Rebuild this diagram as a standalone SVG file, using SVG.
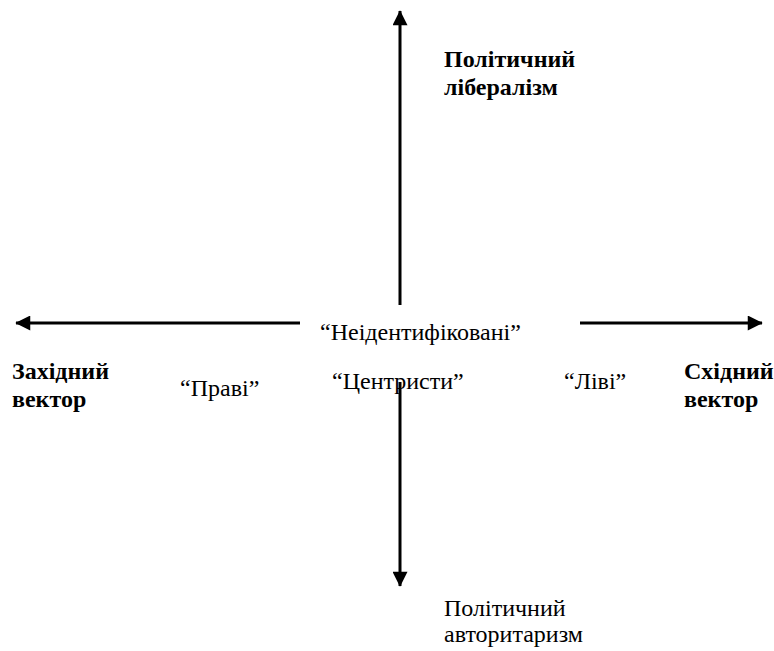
<svg xmlns="http://www.w3.org/2000/svg" width="774" height="651" viewBox="0 0 774 651">
<defs>
<style>
.t{font-family:"Liberation Serif","Times New Roman",serif;font-size:24px;fill:#000}
.b{font-weight:bold}
.ax{stroke:#000;stroke-width:3;fill:none}
</style>
<marker id="ah" viewBox="0 0 10 10" refX="9.5" refY="5" markerWidth="5.4" markerHeight="5" markerUnits="strokeWidth" orient="auto"><path d="M0,0 L10,5 L0,10 Z" fill="#000"/></marker>
</defs>
<rect width="774" height="651" fill="#fff"/>
<g id="connectors">
<line class="ax" x1="400" y1="305" x2="400" y2="11" marker-end="url(#ah)"/>
<line class="ax" x1="400" y1="382" x2="400" y2="586" marker-end="url(#ah)"/>
<line class="ax" x1="300" y1="323" x2="16" y2="323" marker-end="url(#ah)"/>
<line class="ax" x1="580" y1="323" x2="762" y2="323" marker-end="url(#ah)"/>
</g>
<g id="liberalism"><text class="t b" x="444" y="67">Політичний</text><text class="t b" x="444" y="95">лібералізм</text></g>
<g id="authoritarianism"><text class="t" x="444" y="616">Політичний</text><text class="t" x="444" y="642">авторитаризм</text></g>
<g id="west"><text class="t b" x="12" y="379">Західний</text><text class="t b" x="12" y="407">вектор</text></g>
<g id="east"><text class="t b" x="684" y="379">Східний</text><text class="t b" x="684" y="407">вектор</text></g>
<g id="unidentified"><text class="t" x="320" y="340">“Неідентифіковані”</text></g>
<g id="centrists"><text class="t" x="332" y="389">“Центристи”</text></g>
<g id="right"><text class="t" x="180" y="396">“Праві”</text></g>
<g id="left"><text class="t" x="564" y="389">“Ліві”</text></g>
</svg>
